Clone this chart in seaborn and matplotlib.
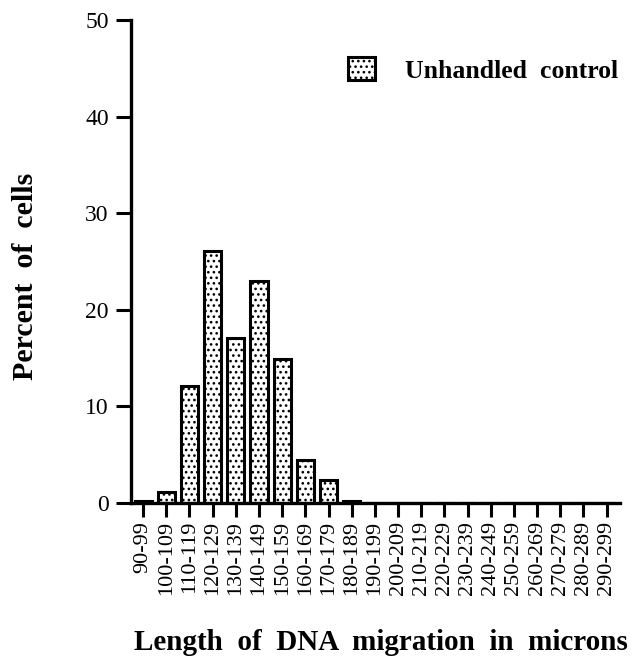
import matplotlib
matplotlib.use("Agg")
import matplotlib.pyplot as plt
import matplotlib.patches as mpatches
import seaborn as sns
import pandas as pd

# Migration-length bins (microns) and share of cells in each bin
bins = ["90-99", "100-109", "110-119", "120-129", "130-139", "140-149",
        "150-159", "160-169", "170-179", "180-189", "190-199", "200-209",
        "210-219", "220-229", "230-239", "240-249", "250-259", "260-269",
        "270-279", "280-289", "290-299"]
percent_cells = [0.2, 1.1, 12.1, 26.1, 17.1, 23.0, 14.9, 4.4, 2.4, 0.2,
                 0, 0, 0, 0, 0, 0, 0, 0, 0, 0, 0]
series_label = "Unhandled  control"
y_ticks = [0, 10, 20, 30, 40, 50]

df = pd.DataFrame({"bin": bins, "percent": percent_cells})

sns.set_style("ticks")
plt.rcParams["font.family"] = ["Liberation Serif", "DejaVu Serif"]
plt.rcParams["hatch.linewidth"] = 1.1
for key in ("text.color", "axes.edgecolor", "axes.labelcolor",
            "xtick.color", "ytick.color"):
    plt.rcParams[key] = "black"

fig = plt.figure(figsize=(6.37, 6.58), dpi=100)
ax = fig.add_axes([0.2057, 0.2356, 0.767, 0.734])

sns.barplot(data=df, x="bin", y="percent", order=bins, color="white",
            edgecolor="black", linewidth=2.2, width=0.74, hatch="...",
            saturation=1, ax=ax)

ax.set_ylim(0, 50)
ax.set_xlim(-0.52, 20.56)
ax.set_yticks(y_ticks)
ax.set_yticklabels([str(t) for t in y_ticks], fontsize=17)
ax.tick_params(axis="y", length=11, width=2.2, pad=5)
ax.tick_params(axis="x", length=10, width=2.2, pad=3, labelsize=16,
               labelrotation=90)

for side in ("top", "right"):
    ax.spines[side].set_visible(False)
for side in ("left", "bottom"):
    ax.spines[side].set_linewidth(2.4)

ax.set_ylabel("Percent  of  cells", fontsize=21.5, fontweight="bold",
              va="center")
ax.yaxis.set_label_coords(26 / 637, 1 - 276 / 658, transform=fig.transFigure)
ax.set_xlabel("Length  of  DNA  migration  in  microns", fontsize=21,
              fontweight="bold", va="center")
ax.xaxis.set_label_coords(381 / 637, 1 - 642 / 658, transform=fig.transFigure)

handle = mpatches.Patch(facecolor="white", edgecolor="black", linewidth=2.2,
                        hatch="...", label=series_label)
leg = fig.legend(handles=[handle], loc="center left", frameon=False,
                 bbox_to_anchor=(348 / 637, 1 - 70 / 658),
                 bbox_transform=fig.transFigure, borderpad=0,
                 borderaxespad=0,
                 handlelength=1.05, handleheight=1.0, handletextpad=1.15,
                 prop={"family": "Liberation Serif", "weight": "bold",
                       "size": 18.5})

fig.savefig("out.png", dpi=100)
